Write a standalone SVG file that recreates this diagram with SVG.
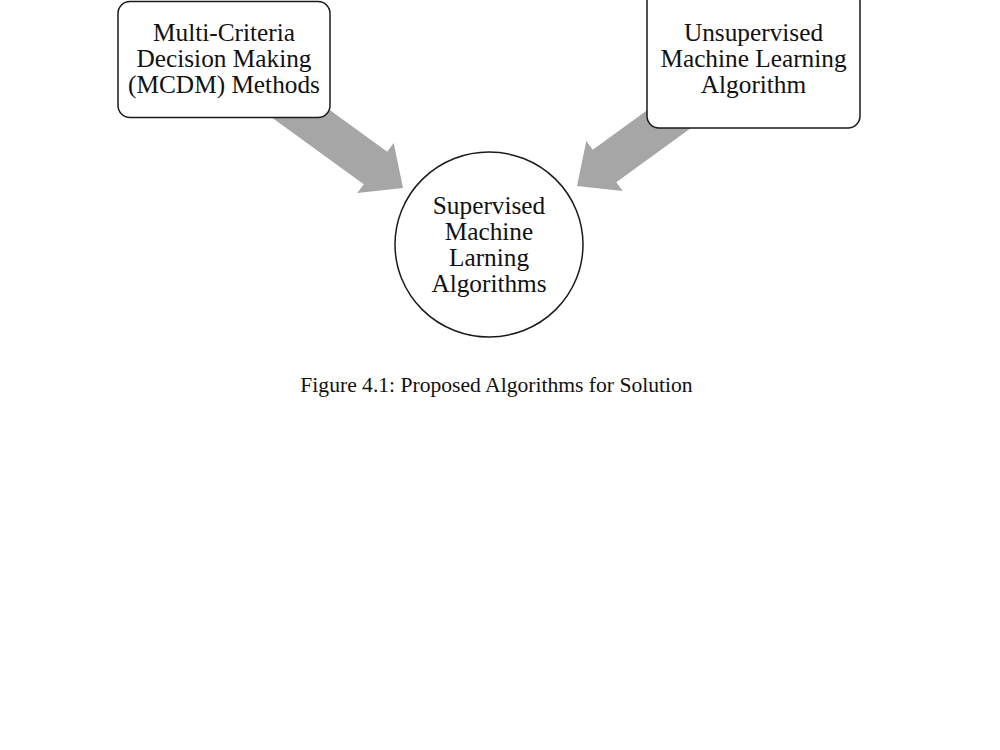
<svg xmlns="http://www.w3.org/2000/svg" width="1000" height="750" viewBox="0 0 1000 750">
<style>
.bg{fill:#ffffff}
.box{fill:#ffffff;stroke:#1a1a1a;stroke-width:1.5}
.arrow{fill:#a6a6a6;stroke:none}
.t{font-family:"Liberation Serif","Times New Roman",serif;font-size:25.3px;fill:#111;text-anchor:middle}
.cap{font-family:"Liberation Serif","Times New Roman",serif;font-size:21.6px;fill:#111;text-anchor:middle}
</style>
<defs>
<polygon id="blockArrow" points="0,0 -34,-31 -34,-20 -160,-20 -160,20 -34,20 -34,31"/>
</defs>
<rect class="bg" x="0" y="0" width="1000" height="750"/>
<g id="connectors">
<use href="#blockArrow" class="arrow" transform="translate(403,188) rotate(36)"/>
<use href="#blockArrow" class="arrow" transform="translate(577,186) rotate(144)"/>
</g>
<g id="node-mcdm">
<rect class="box" x="118" y="1.5" width="212" height="116" rx="12" ry="12"/>
<text class="t" x="224" y="41">Multi-Criteria</text>
<text class="t" x="224" y="67">Decision Making</text>
<text class="t" x="224" y="93">(MCDM) Methods</text>
</g>
<g id="node-unsupervised">
<rect class="box" x="647" y="-10" width="213" height="138" rx="12" ry="12"/>
<text class="t" x="753.5" y="41">Unsupervised</text>
<text class="t" x="753.5" y="67">Machine Learning</text>
<text class="t" x="753.5" y="93">Algorithm</text>
</g>
<g id="node-supervised">
<ellipse class="box" cx="489" cy="244.5" rx="94" ry="92.5"/>
<text class="t" x="489" y="214">Supervised</text>
<text class="t" x="489" y="240">Machine</text>
<text class="t" x="489" y="266">Larning</text>
<text class="t" x="489" y="292">Algorithms</text>
</g>
<g id="caption">
<text class="cap" x="496.5" y="392">Figure 4.1: Proposed Algorithms for Solution</text>
</g>
</svg>
